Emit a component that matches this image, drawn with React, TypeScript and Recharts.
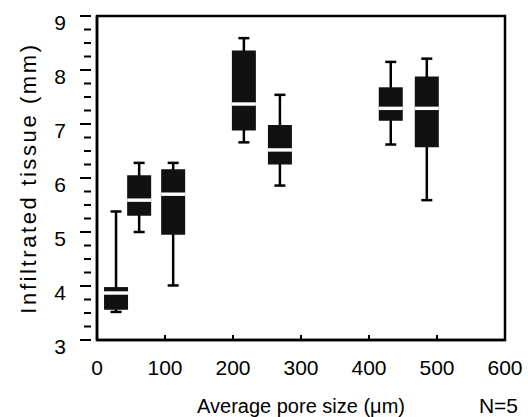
import { ScatterChart, Scatter, XAxis, YAxis, ErrorBar, ReferenceArea, Label, Customized } from "recharts";

// pore size (um) of each sample group
const poreSize = [28, 62, 112, 216, 269, 432, 485];
// box plot values, infiltrated tissue (mm)
const whiskerLow = [3.52, 5.0, 4.01, 6.66, 5.86, 6.62, 5.59];
const boxLow = [3.56, 5.3, 4.95, 6.88, 6.25, 7.06, 6.57];
const median = [3.87, 5.59, 5.7, 7.37, 6.52, 7.29, 7.29];
const boxHigh = [3.98, 6.05, 6.16, 8.36, 6.98, 7.68, 7.88];
const whiskerHigh = [5.38, 6.28, 6.28, 8.59, 7.54, 8.15, 8.21];

const xTicks = [0, 100, 200, 300, 400, 500, 600];
const yTicks = [
  3, 3.25, 3.5, 3.75, 4, 4.25, 4.5, 4.75, 5, 5.25, 5.5, 5.75, 6,
  6.25, 6.5, 6.75, 7, 7.25, 7.5, 7.75, 8, 8.25, 8.5, 8.75, 9,
];

const data = poreSize.map((x, i) => ({
  x,
  med: median[i],
  boxErr: [median[i] - boxLow[i], boxHigh[i] - median[i]],
  whiskErr: [median[i] - whiskerLow[i], whiskerHigh[i] - median[i]],
}));

const FONT = "'Liberation Sans', Arial, sans-serif";
const BOX_W = 24;

const YTick = ({ x, y, payload }: any) => {
  const major = Number.isInteger(payload.value);
  return (
    <g>
      <line x1={x - (major ? 11 : 7)} x2={x} y1={y} y2={y} stroke="#000" strokeWidth={2} />
      {major && (
        <text x={x - 25} y={y + 6} textAnchor="end" dominantBaseline="central" fontSize={21} fill="#000" fontFamily={FONT}>
          {payload.value}
        </text>
      )}
    </g>
  );
};

const MedianLine = ({ cx, cy }: any) => (
  <rect x={cx - BOX_W / 2} y={cy - 1.7} width={BOX_W} height={3.4} fill="#fff" />
);

export default function App() {
  return (
    <div style={{ position: "absolute", left: 0, top: 0, background: "#fff" }}>
      <ScatterChart width={528} height={417} margin={{ top: 16, right: 23, left: 0, bottom: 0 }} style={{ fontFamily: FONT }}>
        <XAxis
          type="number"
          dataKey="x"
          domain={[0, 600]}
          ticks={xTicks}
          interval={0}
          height={77}
          tickSize={-5}
          tickMargin={25}
          tick={{ fill: "#000", fontSize: 21 }}
          axisLine={{ stroke: "#000", strokeWidth: 2.5 }}
          tickLine={{ stroke: "#000", strokeWidth: 2 }}
        >
          <Label value="Average pore size (μm)" position="insideBottom" offset={4} fill="#000" fontSize={20} />
        </XAxis>
        <YAxis
          type="number"
          dataKey="med"
          domain={[3, 9]}
          ticks={yTicks}
          interval={0}
          width={97}
          tickLine={false}
          tickMargin={0}
          tick={<YTick />}
          axisLine={{ stroke: "#000", strokeWidth: 2.5 }}
        >
          <Label
            value="Infiltrated tissue (mm)"
            angle={-90}
            position="insideLeft"
            offset={28}
            fill="#000"
            fontSize={22}
            style={{ textAnchor: "middle", letterSpacing: 2.6 }}
          />
        </YAxis>
        <ReferenceArea x1={0} x2={600} y1={3} y2={9} fill="none" stroke="#000" strokeWidth={2.5} />
        <Scatter data={data} shape={<MedianLine />} isAnimationActive={false}>
          <ErrorBar dataKey="whiskErr" direction="y" width={5.5} stroke="#000" strokeWidth={2.5} isAnimationActive={false} />
          <ErrorBar dataKey="boxErr" direction="y" width={0} stroke="#111" strokeWidth={BOX_W} isAnimationActive={false} />
        </Scatter>
        <Customized
          component={() => (
            <text x={518} y={413} textAnchor="end" fontSize={21} fill="#000" fontFamily={FONT}>
              N=5
            </text>
          )}
        />
      </ScatterChart>
    </div>
  );
}
